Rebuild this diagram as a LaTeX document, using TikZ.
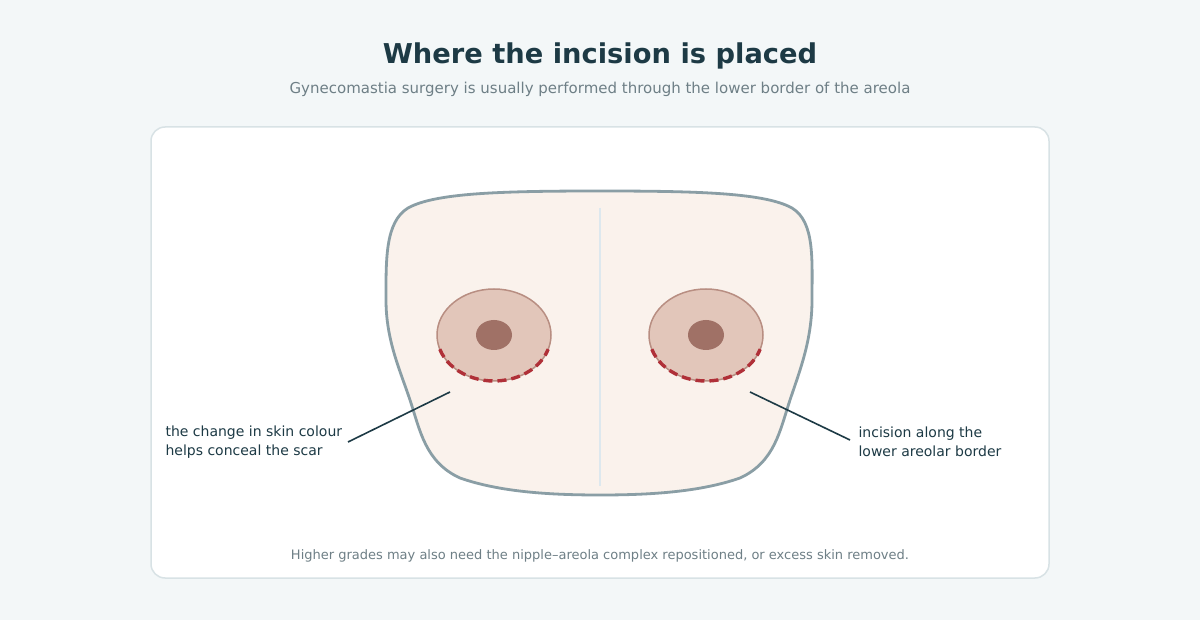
\documentclass[tikz,border=0pt]{standalone}
\usepackage{fontspec}
\setmainfont{DejaVu Sans}
\definecolor{bgc}{HTML}{F3F7F8}
\definecolor{ink}{HTML}{1D3A45}
\definecolor{greyt}{HTML}{6E7F86}
\definecolor{cardline}{HTML}{D8E2E5}
\definecolor{skin}{HTML}{FAF2EC}
\definecolor{outline}{HTML}{8A9EA5}
\definecolor{areola}{HTML}{E2C6BA}
\definecolor{areolaline}{HTML}{B88E82}
\definecolor{nipple}{HTML}{A07166}
\definecolor{cut}{HTML}{B03038}
\definecolor{midl}{HTML}{DDE8EE}
\tikzset{
  label text/.style={font=\fontsize{14}{19}\selectfont, text=ink, align=left},
  leader/.style={draw=ink, line width=1.6pt},
  incision/.style={draw=cut, line width=3.4pt, dash pattern=on 9pt off 5pt},
}
\begin{document}
\begin{tikzpicture}[x=1pt,y=-1pt,line cap=butt,line join=round]
\useasboundingbox[fill=bgc] (0,0) rectangle (1200,620);
\node[font=\fontsize{27.3}{32}\selectfont\bfseries, text=ink] (title) at (600,56) {Where the incision is placed};
\node[font=\fontsize{15}{18}\selectfont, text=greyt] (sub) at (600,89) {Gynecomastia surgery is usually performed through the lower border of the areola};
\draw[fill=white, draw=cardline, line width=1.5pt, rounded corners=14pt] (151,127) rectangle (1049,578);

% torso
\draw[fill=skin, draw=outline, line width=2.8pt]
  (600,191) .. controls (700,191) and (765,193) .. (792,208)
  .. controls (815,222) and (812,260) .. (812,300)
  .. controls (812,340) and (800,370) .. (790,400)
  .. controls (780,430) and (775,462) .. (740,478)
  .. controls (700,492) and (650,495) .. (600,495)
  .. controls (550,495) and (500,492) .. (460,478)
  .. controls (425,462) and (420,430) .. (410,400)
  .. controls (400,370) and (386,340) .. (386,300)
  .. controls (386,260) and (385,222) .. (408,208)
  .. controls (435,193) and (500,191) .. (600,191) -- cycle;
\draw[midl, line width=1.5pt] (600,208) -- (600,486);

% areolae
\foreach \cx/\nm in {494/L,706/R}{
  \draw[fill=areola, draw=areolaline, line width=1.5pt] (\cx,335) ellipse [x radius=57, y radius=46];
  \fill[nipple] (\cx,335) ellipse [x radius=18, y radius=15];
  \draw[incision] (\cx,335) ++(162:57 and 46) arc [start angle=162, end angle=18, x radius=57, y radius=46];
  \coordinate (ar\nm) at (\cx,335);
}

% labels
\coordinate (pL) at (450,392);
\coordinate (pR) at (750,392);
\node[label text, anchor=west] (tL) at (162,442) {the change in skin colour\\helps conceal the scar};
\node[label text, anchor=west] (tR) at (855,442) {incision along the\\lower areolar border};
\draw[leader] (pL) -- (348,442);
\draw[leader] (pR) -- (850,440);

\node[font=\fontsize{13}{16}\selectfont, text=greyt] (foot) at (600,556) {Higher grades may also need the nipple–areola complex repositioned, or excess skin removed.};
\end{tikzpicture}
\end{document}
